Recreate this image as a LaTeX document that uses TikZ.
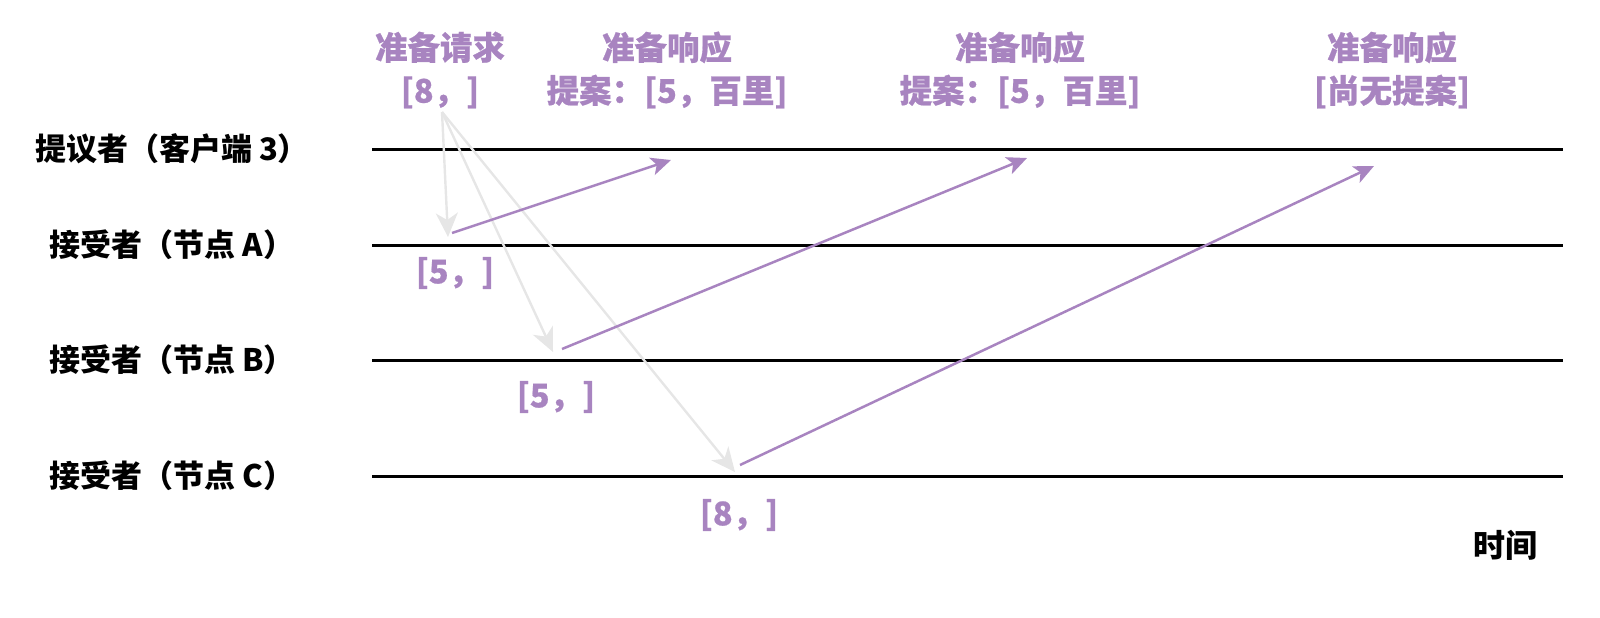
\documentclass[tikz,border=0pt]{standalone}
\usepackage{fontspec}
\newfontfamily\cjk{Noto Sans CJK SC}
\newfontfamily\cjkheavy[FakeBold=0.6]{Noto Sans CJK SC}
\usepackage{xcolor}
\usepackage{tikz}
\usetikzlibrary{positioning, arrows.meta}
\definecolor{msgpurple}{RGB}{168,132,192}
\definecolor{reqgray}{RGB}{230,230,230}

\begin{document}
\begin{tikzpicture}
        [
        x=0.5pt, y=-0.5pt,
        who/.style = {font=\cjk\bfseries\fontsize{15.5}{18}\selectfont, text=black},
        msg/.style = {font=\cjkheavy\bfseries\fontsize{16.25}{21.5}\selectfont, text=msgpurple, align=center},
        timeline/.style = {draw=black, line width=1.5pt},
        reqarrow/.style = {draw=reqgray, line width=1.2pt, -{Stealth[length=12pt, width=11pt, inset=3.5pt]}},
        resparrow/.style = {draw=msgpurple, line width=1.25pt, -{Stealth[length=10pt, width=9pt, inset=2.5pt]}}
        ]
    \useasboundingbox (0,0) rectangle (1600,617);

    % participants
    \node[who] (p) at (172,149) {提议者（客户端 3）};
    \node[who] (a) at (172,245) {接受者（节点 A）};
    \node[who] (b) at (172,360) {接受者（节点 B）};
    \node[who] (c) at (172,476) {接受者（节点 C）};

    \coordinate (p0) at (372,149); \coordinate (p1) at (1563,149);
    \coordinate (a0) at (372,245); \coordinate (a1) at (1563,245);
    \coordinate (b0) at (372,360); \coordinate (b1) at (1563,360);
    \coordinate (c0) at (372,476); \coordinate (c1) at (1563,476);

    \draw[timeline] (p0) -- (p1);
    \draw[timeline] (a0) -- (a1);
    \draw[timeline] (b0) -- (b1);
    \draw[timeline] (c0) -- (c1);

    % messages
    \node[msg] (req) at (440,70) {准备请求\\{}[8，]};
    \node[msg] (ra) at (667,70) {准备响应\\提案：[5，百里]};
    \node[msg] (rb) at (1020,70) {准备响应\\提案：[5，百里]};
    \node[msg] (rc) at (1392,70) {准备响应\\{}[尚无提案]};

    \node[msg] (va) at (455,273) {[5，]};
    \node[msg] (vb) at (556,397) {[5，]};
    \node[msg] (vc) at (739,515) {[8，]};

    \node[who, font=\cjk\bfseries\fontsize{16}{18}\selectfont] (t) at (1505,545) {时间};

    % prepare request
    \coordinate (qs) at (442,112);
    \coordinate (qa) at (448,237);
    \coordinate (qb) at (553,352);
    \coordinate (qc) at (735,472);
    \draw[reqarrow] (qs) -- (qa);
    \draw[reqarrow] (qs) -- (qb);
    \draw[reqarrow] (qs) -- (qc);

    % prepare responses
    \coordinate (sa) at (452,233); \coordinate (ea) at (671,160);
    \coordinate (sb) at (562,349); \coordinate (eb) at (1027,158);
    \coordinate (sc) at (740,465); \coordinate (ec) at (1374,166);
    \draw[resparrow] (sa) -- (ea);
    \draw[resparrow] (sb) -- (eb);
    \draw[resparrow] (sc) -- (ec);
\end{tikzpicture}
\end{document}
